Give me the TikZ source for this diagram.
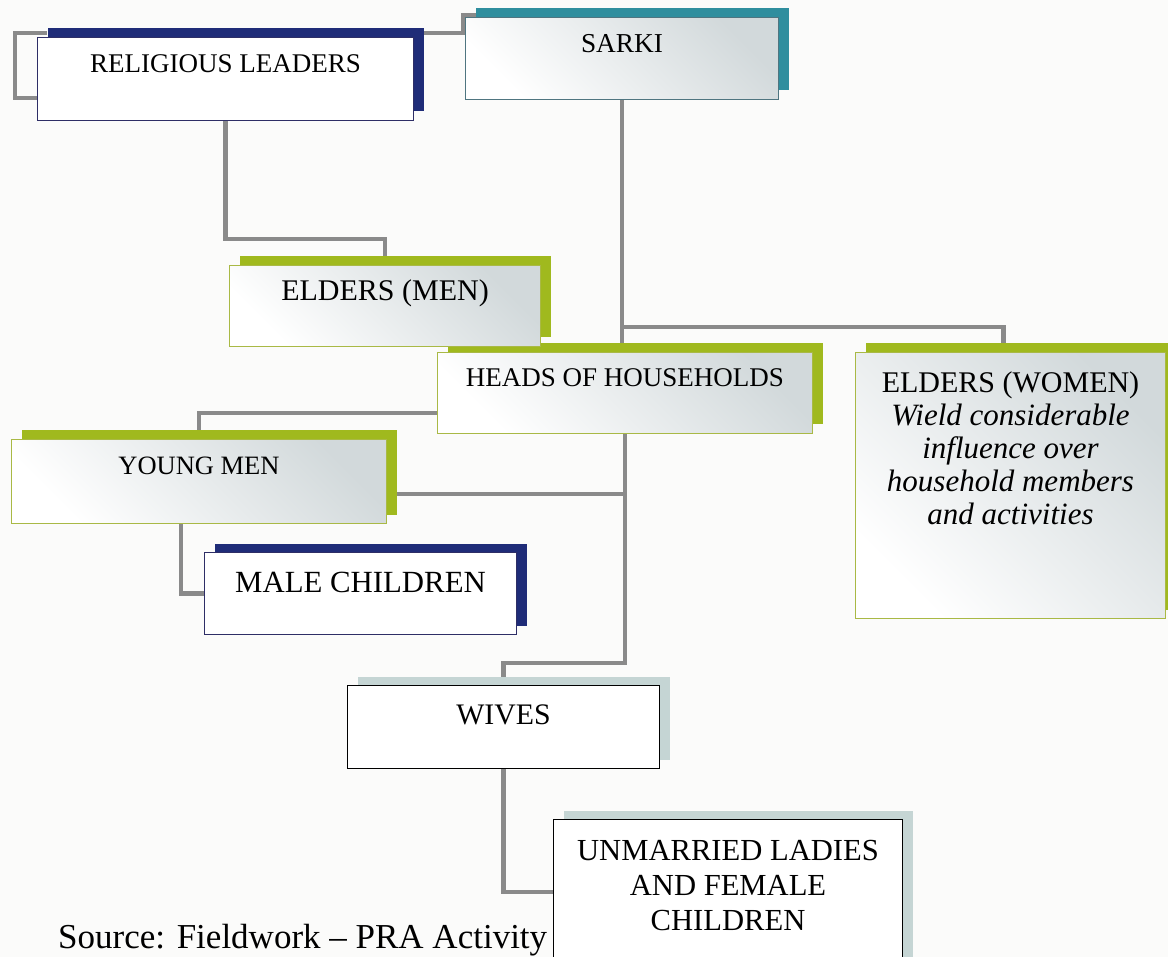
\documentclass[tikz,border=0pt]{standalone}
\usepackage{fontspec}
\setmainfont{Liberation Serif}
\usetikzlibrary{calc,shadows}
\definecolor{gris}{HTML}{8A8A8A}
\definecolor{fondo}{HTML}{FBFBFA}
\definecolor{azul}{HTML}{1F2C78}
\definecolor{azulborde}{HTML}{2E2E66}
\definecolor{turquesa}{HTML}{2F8E9E}
\definecolor{turquesaborde}{HTML}{4F7580}
\definecolor{verde}{HTML}{A0B91E}
\definecolor{verdeborde}{HTML}{A9B945}
\definecolor{celeste}{HTML}{C5D5D4}
\definecolor{grisazul}{HTML}{D2D9DB}
\pgfdeclarelayer{background}
\pgfsetlayers{background,main}

\begin{document}
\begin{tikzpicture}[x=1pt,y=-1pt,
    caja/.style={anchor=north west,inner sep=0pt,line width=1pt},
    sombra/.style={general shadow={shadow xshift=10pt,shadow yshift=9pt,fill=#1}},
    degradado/.style={top color=grisazul,bottom color=white,shading angle=-45},
    cajaverde/.style={caja,draw=verdeborde,degradado,sombra=verde},
    cajaazul/.style={caja,draw=azulborde,fill=white,sombra=azul},
    cajaturquesa/.style={caja,draw=turquesaborde,degradado,sombra=turquesa},
    cajaclara/.style={caja,draw=black,fill=white,sombra=celeste},
    tam/.style={font=\fontsize{#1}{#1}\selectfont},
    linea/.style={draw=gris,line width=4.5pt}]
  \useasboundingbox (0,0) rectangle (1168,957);

  \node[anchor=base west,inner sep=0pt,tam=35] (source) at (58,948) {Source: Fieldwork -- PRA Activity};

  \node[cajaazul,tam=27,minimum width=376pt,text height=35pt,text depth=48pt] (religious) at (37,37) {RELIGIOUS LEADERS};
  \node[cajaturquesa,tam=27.3,minimum width=313pt,text height=35pt,text depth=47pt] (sarki) at (465,17) {SARKI};
  \node[cajaverde,tam=27,minimum width=375pt,text height=34pt,text depth=47pt] (heads) at (437,352) {HEADS OF HOUSEHOLDS};
  \node[cajaverde,tam=30,minimum width=311pt,text height=35pt,text depth=46pt] (eldersmen) at (229,265) {ELDERS (MEN)};
  \node[cajaverde,minimum width=310pt,text height=40pt,text depth=226pt] (elderswomen) at (855,352)
    {\fontsize{31}{33}\selectfont\begin{tabular}[t]{@{}c@{}}\fontsize{30}{33}\selectfont ELDERS (WOMEN)\\
      \itshape Wield considerable\\ \itshape influence over\\ \itshape household members\\ \itshape and activities\end{tabular}};
  \node[cajaverde,tam=26.5,minimum width=375pt,text height=35pt,text depth=49pt] (youngmen) at (11,439) {YOUNG MEN};
  \node[cajaazul,tam=30.8,minimum width=312pt,text height=40pt,text depth=42pt] (malechildren) at (204,552) {MALE CHILDREN};
  \node[cajaclara,tam=29.8,minimum width=312pt,text height=39pt,text depth=44pt] (wives) at (347,685) {WIVES};
  \node[cajaclara,minimum width=349pt,text height=41pt,text depth=130pt] (unmarried) at (553,819)
    {\fontsize{30.6}{35}\selectfont\begin{tabular}[t]{@{}c@{}}UNMARRIED LADIES\\ AND FEMALE\\ CHILDREN\end{tabular}};

  % connectors go behind the boxes
  \begin{pgfonlayer}{background}
    \fill[fondo] (0,0) rectangle (1168,957);
    \draw[linea] ([xshift=10pt,yshift=4pt]religious.north west) -- ++(-32,0) |- ([yshift=23pt]religious.south west);
    \draw[linea] ([yshift=4pt]religious.north east) -| ([xshift=-2pt,yshift=2pt]sarki.north west) -- ([xshift=12pt,yshift=2pt]sarki.north west);
    \draw[linea] (religious.south) -- ++(0,118) -| (eldersmen.north);
    \draw[linea] (sarki.south) -- (sarki.south |- heads.north);
    \draw[linea] ($(sarki.south |- heads.north)+(0,-25)$) -| ([xshift=-7pt]elderswomen.north);
    \draw[linea] ($(heads.north west)+(0,61)$) -| (youngmen.north);
    \coordinate (ym) at ($(youngmen.south east)+(0,-30)$);
    \draw[linea] (ym) -- (ym -| heads.south);
    \draw[linea] (heads.south) -- ++(0,229) -| (wives.north);
    \draw[linea] ([xshift=-18pt]youngmen.south) |- (malechildren.west);
    \draw[linea] (wives.south) |- ($(unmarried.north west)+(0,73)$);
  \end{pgfonlayer}
\end{tikzpicture}
\end{document}
